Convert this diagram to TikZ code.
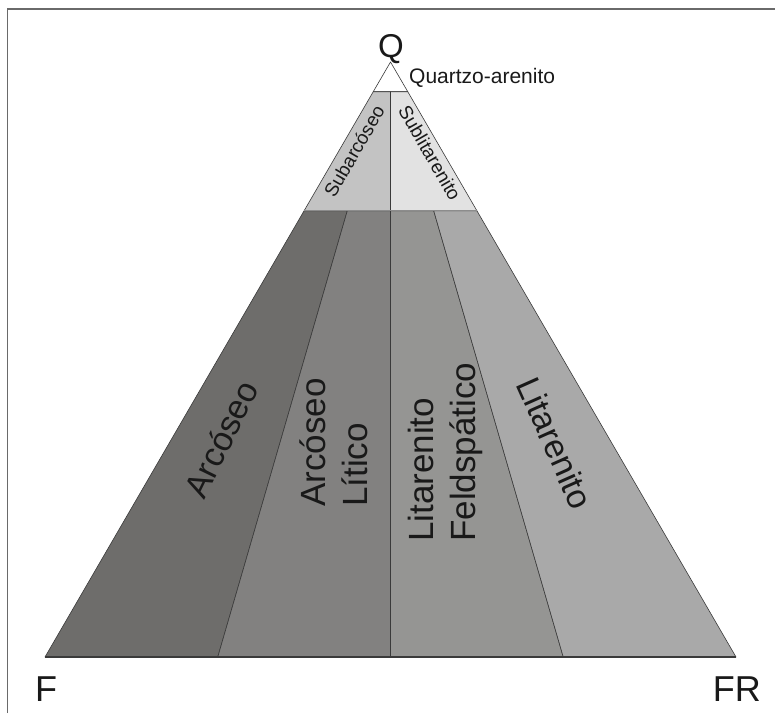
\documentclass[tikz,border=0pt]{standalone}
\usepackage{fontspec}
\setmainfont{Liberation Sans}
\definecolor{cArc}{HTML}{6E6D6B}
\definecolor{cArcL}{HTML}{828180}
\definecolor{cLitF}{HTML}{959593}
\definecolor{cLit}{HTML}{A9A9A9}
\definecolor{cSubA}{HTML}{C3C3C3}
\definecolor{cSubL}{HTML}{E2E2E2}
\definecolor{cEdge}{HTML}{3A3A3A}
\definecolor{cFrame}{HTML}{6A6A6A}
\tikzset{
  zone/.style={draw=cEdge, line width=0.6pt, line join=round},
  vertexlabel/.style={inner sep=0pt, font=\fontsize{36}{40}\selectfont, text=black!90},
  smalllabel/.style={inner sep=0pt, font=\fontsize{19}{22}\selectfont, text=black!90},
  biglabel/.style={inner sep=0pt, font=\fontsize{35}{42}\selectfont, text=black!90},
}
\begin{document}
\begin{tikzpicture}[x=1pt,y=-1pt]
\useasboundingbox (0,0) rectangle (775,713);
% frame
\coordinate (fTL) at (7.5,9);
\coordinate (fTR) at (775,9);
\coordinate (fBL) at (7.5,713);
\draw[cFrame, line width=1.2pt] (fBL) -- (fTL) -- (fTR);
% key points
\coordinate (A) at (390.5,62);
\coordinate (BL) at (45,657);
\coordinate (BR) at (736,657);
\coordinate (B1) at (217.75,657);
\coordinate (B2) at (390.5,657);
\coordinate (B3) at (563.25,657);
\coordinate (Q95L) at (373.2,91.75);
\coordinate (Q95R) at (407.8,91.75);
\coordinate (Q95M) at (390.5,91.75);
\coordinate (Q75L) at (304.1,210.75);
\coordinate (Q75R) at (476.9,210.75);
\coordinate (Q75M) at (390.5,210.75);
\coordinate (Q75a) at (347.3,210.75);
\coordinate (Q75b) at (433.7,210.75);
% zones
\draw[zone, fill=white] (A) -- (Q95R) -- (Q95L) -- cycle;
\draw[zone, fill=cSubA] (Q95L) -- (Q95M) -- (Q75M) -- (Q75L) -- cycle;
\draw[zone, fill=cSubL] (Q95M) -- (Q95R) -- (Q75R) -- (Q75M) -- cycle;
\draw[zone, fill=cArc] (Q75L) -- (Q75a) -- (B1) -- (BL) -- cycle;
\draw[zone, fill=cArcL] (Q75a) -- (Q75M) -- (B2) -- (B1) -- cycle;
\draw[zone, fill=cLitF] (Q75M) -- (Q75b) -- (B3) -- (B2) -- cycle;
\draw[zone, fill=cLit] (Q75b) -- (Q75R) -- (BR) -- (B3) -- cycle;
\draw[color=black!45, line width=1.4pt] (Q75L) -- (Q75R);
\draw[color=cEdge, line width=1.3pt] (BL) -- (BR);
% vertex labels
\node[vertexlabel, font=\fontsize{33}{38}\selectfont, anchor=base] (lQ) at (391,57) {Q};
\node[vertexlabel, anchor=base west] (lF) at (35,701) {F};
\node[vertexlabel, anchor=base east] (lFR) at (761,701) {FR};
% zone labels
\node[inner sep=0pt, font=\fontsize{21}{24}\selectfont, text=black!90, anchor=base west] (lQa) at (409,83) {Quartzo-arenito};
\node[smalllabel, rotate=60] (lSubA) at (354,151) {Subarcóseo};
\node[smalllabel, rotate=-60] (lSubL) at (430,153) {Sublitarenito};
\node[biglabel, font=\fontsize{34}{40}\selectfont, rotate=64] (lArc) at (221,439) {Arcóseo};
\node[biglabel, rotate=90, align=left, anchor=north west] (lArcL) at (300,507) {Arcóseo\\Lítico};
\node[biglabel, rotate=90, align=left, anchor=north west] (lLitF) at (408,542) {Litarenito\\Feldspático};
\node[biglabel, font=\fontsize{34}{40}\selectfont, rotate=-66] (lLit) at (555,443) {Litarenito};
\end{tikzpicture}
\end{document}
